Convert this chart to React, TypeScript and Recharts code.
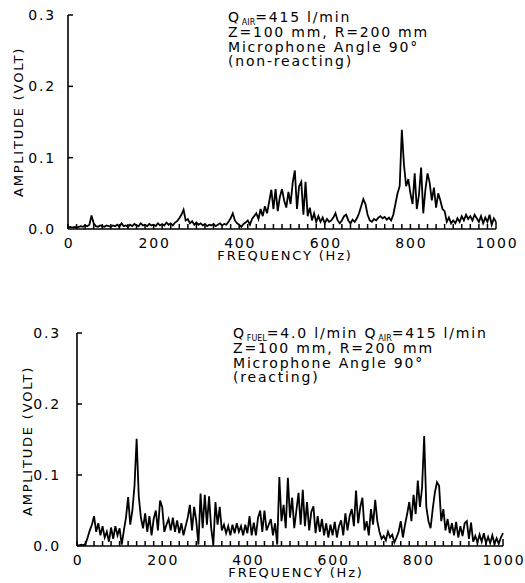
import React from 'react';
import { LineChart, Line, XAxis, YAxis } from 'recharts';

// spectra sampled every 5 Hz, 0..1000 Hz, amplitude in volts
const FREQ_STEP = 5;
const X_LABELS = [0, 200, 400, 600, 800, 1000];
const X_MINOR_STEP = 20;
const Y_TICKS = [0, 0.1, 0.2, 0.3];

const NON_REACTING = [
  0.002, 0.003, 0.002, 0.003, 0.002, 0.003, 0.004, 0.003, 0.005, 0.004, 0.006, 0.019, 0.008, 0.004, 0.003, 0.005, 0.004, 0.003, 0.005, 0.004,
  0.003, 0.005, 0.004, 0.006, 0.003, 0.008, 0.004, 0.005, 0.003, 0.006, 0.004, 0.007, 0.005, 0.004, 0.008, 0.005, 0.006, 0.004, 0.007, 0.005,
  0.006, 0.004, 0.008, 0.005, 0.007, 0.005, 0.009, 0.006, 0.008, 0.005, 0.009, 0.011, 0.015, 0.02, 0.027, 0.012, 0.014, 0.008, 0.011, 0.006,
  0.009, 0.006, 0.008, 0.005, 0.007, 0.004, 0.006, 0.005, 0.007, 0.004, 0.006, 0.008, 0.005, 0.007, 0.006, 0.01, 0.015, 0.022, 0.012, 0.008,
  0.006, 0.003, 0.007, 0.009, 0.012, 0.006, 0.014, 0.018, 0.022, 0.014, 0.028, 0.018, 0.032, 0.022, 0.038, 0.055, 0.028, 0.056, 0.025, 0.045,
  0.056, 0.04, 0.03, 0.052, 0.035, 0.065, 0.082, 0.028, 0.06, 0.066, 0.02, 0.066, 0.018, 0.03, 0.012, 0.022, 0.01, 0.018, 0.01, 0.016,
  0.008, 0.014, 0.01, 0.012, 0.016, 0.022, 0.012, 0.008, 0.012, 0.018, 0.02, 0.012, 0.008, 0.013, 0.01, 0.015, 0.022, 0.032, 0.042, 0.035,
  0.02, 0.012, 0.01, 0.014, 0.012, 0.016, 0.018, 0.015, 0.017, 0.013, 0.016, 0.012, 0.02, 0.035, 0.05, 0.06, 0.139, 0.09, 0.06, 0.07,
  0.05, 0.035, 0.078, 0.028, 0.048, 0.086, 0.022, 0.055, 0.078, 0.065, 0.04, 0.058, 0.03, 0.05, 0.04, 0.028, 0.025, 0.01, 0.016, 0.008,
  0.012, 0.008, 0.015, 0.01, 0.018, 0.012, 0.02, 0.014, 0.018, 0.012, 0.02, 0.015, 0.01, 0.018, 0.008, 0.016, 0.01, 0.02, 0.006, 0.015,
  0.01,
];

const REACTING = [
  0.001, 0.001, 0.002, 0.001, 0.003, 0.012, 0.022, 0.03, 0.042, 0.02, 0.032, 0.015, 0.028, 0.012, 0.02, 0.006, 0.026, 0.01, 0.028, 0.015,
  0.025, 0.002, 0.022, 0.04, 0.069, 0.03, 0.05, 0.085, 0.151, 0.07, 0.04, 0.025, 0.046, 0.02, 0.042, 0.015, 0.038, 0.05, 0.022, 0.064,
  0.055, 0.02, 0.03, 0.038, 0.022, 0.04, 0.02, 0.036, 0.018, 0.032, 0.015, 0.028, 0.04, 0.058, 0.022, 0.055, 0.035, 0.002, 0.074, 0.025,
  0.072, 0.03, 0.07, 0.025, 0.002, 0.062, 0.03, 0.055, 0.022, 0.03, 0.018, 0.028, 0.015, 0.03, 0.018, 0.032, 0.02, 0.028, 0.015, 0.03,
  0.018, 0.042, 0.015, 0.033, 0.015, 0.04, 0.05, 0.02, 0.05, 0.022, 0.03, 0.038, 0.015, 0.032, 0.002, 0.097, 0.035, 0.058, 0.025, 0.096,
  0.04, 0.068, 0.025, 0.05, 0.075, 0.03, 0.079, 0.028, 0.062, 0.022, 0.048, 0.056, 0.018, 0.042, 0.02, 0.038, 0.015, 0.032, 0.012, 0.03,
  0.015, 0.034, 0.012, 0.028, 0.036, 0.015, 0.046, 0.022, 0.042, 0.052, 0.028, 0.078, 0.032, 0.055, 0.068, 0.022, 0.035, 0.015, 0.052, 0.03,
  0.065, 0.035, 0.02, 0.01, 0.014, 0.008, 0.02, 0.012, 0.016, 0.005, 0.012, 0.02, 0.035, 0.012, 0.03, 0.045, 0.062, 0.035, 0.072, 0.045,
  0.092, 0.055, 0.082, 0.155, 0.055, 0.035, 0.025, 0.052, 0.075, 0.09, 0.085, 0.035, 0.052, 0.022, 0.038, 0.018, 0.032, 0.015, 0.034, 0.012,
  0.028, 0.014, 0.032, 0.035, 0.01, 0.033, 0.006, 0.014, 0.005, 0.016, 0.006, 0.018, 0.004, 0.013, 0.004, 0.015, 0.003, 0.011, 0.003, 0.012,
  0.018,
];

const X_TICKS = Array.from({ length: 1000 / X_MINOR_STEP + 1 }, (_, i) => i * X_MINOR_STEP);

const nonReactingData = NON_REACTING.map((v, i) => ({ f: i * FREQ_STEP, v }));
const reactingData = REACTING.map((v, i) => ({ f: i * FREQ_STEP, v }));

const FONT = '"DejaVu Sans", sans-serif';
const SPACING = 1.8;

const XTick = (props: any) => {
  const { x, y, payload } = props;
  const v = payload.value;
  return (
    <g>
      <line x1={x} y1={y} x2={x} y2={y - (v === 1000 ? 7 : 5)} stroke="#000" strokeWidth={1.5} />
      {X_LABELS.includes(v) && (
        <text x={x + 1} y={y + 19} textAnchor="middle" fontFamily={FONT} fontSize={14} letterSpacing={SPACING} fill="#000">
          {v}
        </text>
      )}
    </g>
  );
};

const makeYTick = (gap: number) => (props: any) => {
  const { x, y, payload } = props;
  return (
    <g>
      {payload.value > 0 && <line x1={x} y1={y} x2={x + 5} y2={y} stroke="#000" strokeWidth={1.5} />}
      <text x={x - gap} y={y + 5} textAnchor="end" fontFamily={FONT} fontSize={14} letterSpacing={SPACING} fill="#000">
        {payload.value.toFixed(1)}
      </text>
    </g>
  );
};

const Q = ({ sub }: { sub: string }) => (
  <>
    Q<tspan fontSize={8} dx={1} dy={3} letterSpacing={0} fill="#000">{sub}</tspan>
    <tspan dy={-3}>=</tspan>
  </>
);

const Spectrum = ({ data, width, height, margin, gap }: any) => (
  <LineChart width={width} height={height} data={data} margin={margin}>
    <XAxis
      dataKey="f"
      type="number"
      domain={[0, 1000]}
      ticks={X_TICKS}
      interval={0}
      tickSize={0}
      tickMargin={0}
      tickLine={false}
      tick={<XTick />}
      height={30}
      axisLine={{ stroke: '#000', strokeWidth: 1.6 }}
    />
    <YAxis
      type="number"
      domain={[0, 0.3]}
      ticks={Y_TICKS}
      interval={0}
      tickSize={0}
      tickMargin={0}
      tickLine={false}
      tick={makeYTick(gap)}
      width={60}
      axisLine={{ stroke: '#000', strokeWidth: 1.6 }}
    />
    <Line
      dataKey="v"
      type="linear"
      stroke="#000"
      strokeWidth={1.8}
      dot={false}
      isAnimationActive={false}
    />
  </LineChart>
);

const textStyle = { fontFamily: FONT, fontSize: 14, letterSpacing: SPACING, fill: '#000' };
const titleStyle = { fontFamily: FONT, fontSize: 13, letterSpacing: SPACING, fill: '#000' };

export default function App() {
  return (
    <div style={{ position: 'absolute', left: 0, top: 0, width: 525, height: 583, background: '#fff' }}>
      <div style={{ position: 'absolute', left: 0, top: 0 }}>
        <Spectrum data={nonReactingData} width={525} height={259} margin={{ top: 15, right: 29, bottom: 0, left: 8 }} gap={12} />
      </div>
      <div style={{ position: 'absolute', left: 0, top: 300 }}>
        <Spectrum data={reactingData} width={525} height={276} margin={{ top: 33, right: 22, bottom: 0, left: 17 }} gap={16} />
      </div>
      <svg width={525} height={583} style={{ position: 'absolute', left: 0, top: 0, pointerEvents: 'none' }}>
        {/* upper panel */}
        <text {...textStyle} x={228} y={22}><Q sub="AIR" />415 l/min</text>
        <text {...textStyle} x={228} y={37}>Z=100 mm, R=200 mm</text>
        <text {...textStyle} x={228} y={52}>Microphone Angle 90°</text>
        <text {...textStyle} x={228} y={66}>(non-reacting)</text>
        <text {...titleStyle} textAnchor="middle" transform="translate(23,122) rotate(-90)">AMPLITUDE (VOLT)</text>
        <text {...titleStyle} textAnchor="middle" x={285} y={260}>FREQUENCY (Hz)</text>

        {/* lower panel */}
        <text {...textStyle} x={233} y={338}><Q sub="FUEL" />4.0 l/min <Q sub="AIR" />415 l/min</text>
        <text {...textStyle} x={233} y={353}>Z=100 mm, R=200 mm</text>
        <text {...textStyle} x={233} y={368}>Microphone Angle 90°</text>
        <text {...textStyle} x={233} y={382}>(reacting)</text>
        <text {...titleStyle} textAnchor="middle" transform="translate(32,441) rotate(-90)">AMPLITUDE (VOLT)</text>
        <text {...titleStyle} textAnchor="middle" x={296} y={577}>FREQUENCY (Hz)</text>
      </svg>
    </div>
  );
}
